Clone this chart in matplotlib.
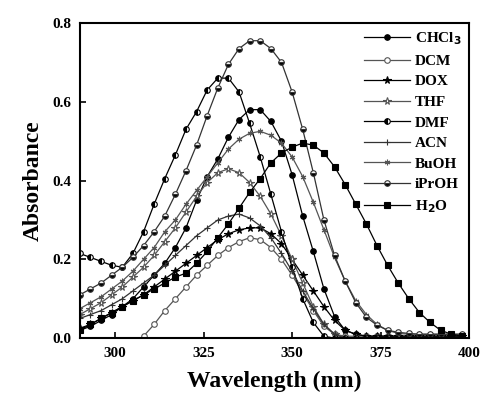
import numpy as np
import matplotlib
matplotlib.use("Agg")
import matplotlib.pyplot as plt

plt.rcParams["font.family"] = "Liberation Serif"
plt.rcParams["font.weight"] = "bold"

nan = np.nan
wavelength = list(range(290, 399, 3))

chcl3 = [0.02, 0.03, 0.045, 0.06, 0.08, 0.10, 0.13, 0.16, 0.19, 0.23, 0.28, 0.35, 0.41,
         0.455, 0.51, 0.555, 0.58, 0.58, 0.55, 0.50, 0.415, 0.31, 0.22, 0.125, 0.055,
         0.02, 0.01] + [0.005] * 10
dcm = [nan] * 6 + [0.005, 0.035, 0.07, 0.10, 0.13, 0.16, 0.185, 0.21, 0.23, 0.245,
                   0.255, 0.25, 0.23, 0.20, 0.16, 0.115, 0.07, 0.03, 0.01] + [0.005] * 12
dox = [0.025, 0.035, 0.05, 0.065, 0.08, 0.095, 0.11, 0.13, 0.15, 0.17, 0.19, 0.21, 0.23,
       0.25, 0.265, 0.275, 0.28, 0.28, 0.265, 0.24, 0.20, 0.16, 0.12, 0.08, 0.045,
       0.02, 0.01] + [0.005] * 10
thf = [0.06, 0.075, 0.09, 0.11, 0.13, 0.155, 0.18, 0.21, 0.245, 0.28, 0.32, 0.36, 0.395,
       0.42, 0.43, 0.42, 0.395, 0.36, 0.315, 0.26, 0.20, 0.14, 0.08, 0.035, 0.01,
       0.0] + [0.0] * 11
dmf = [0.215, 0.205, 0.195, 0.185, 0.18, 0.215, 0.27, 0.34, 0.405, 0.465, 0.53, 0.575,
       0.63, 0.66, 0.66, 0.625, 0.545, 0.46, 0.365, 0.27, 0.18, 0.10, 0.04,
       0.005] + [0.0] * 13
acn = [0.05, 0.06, 0.07, 0.085, 0.10, 0.12, 0.14, 0.16, 0.185, 0.21, 0.235, 0.26, 0.28,
       0.30, 0.31, 0.315, 0.305, 0.285, 0.255, 0.215, 0.17, 0.12, 0.075, 0.035,
       0.01] + [0.0] * 12
buoh = [0.075, 0.09, 0.105, 0.125, 0.145, 0.17, 0.20, 0.23, 0.27, 0.30, 0.34, 0.375, 0.41,
        0.445, 0.48, 0.505, 0.52, 0.525, 0.515, 0.495, 0.46, 0.41, 0.345, 0.275, 0.205,
        0.145, 0.095, 0.06, 0.035, 0.02, 0.012] + [0.01] * 6
iproh = [0.11, 0.125, 0.14, 0.16, 0.18, 0.205, 0.235, 0.27, 0.31, 0.365, 0.425, 0.49,
         0.565, 0.635, 0.695, 0.735, 0.755, 0.755, 0.735, 0.70, 0.625, 0.53, 0.42, 0.30,
         0.21, 0.145, 0.09, 0.053, 0.033, 0.02, 0.015, 0.012] + [0.01] * 5
h2o = [0.02, 0.035, 0.05, 0.065, 0.08, 0.095, 0.11, 0.125, 0.14, 0.155, 0.165, 0.19, 0.22,
       0.255, 0.29, 0.33, 0.37, 0.405, 0.445, 0.47, 0.485, 0.495, 0.49, 0.47, 0.435,
       0.39, 0.34, 0.29, 0.235, 0.185, 0.14, 0.10, 0.065, 0.04, 0.02, 0.01, 0.005]

labels = ["CHCl$_3$", "DCM", "DOX", "THF", "DMF", "ACN", "BuOH", "iPrOH", "H$_2$O"]
series = [chcl3, dcm, dox, thf, dmf, acn, buoh, iproh, h2o]

# marker, face colour, fillstyle, line colour
styles = [
    ("o", "black", "full", "black"),
    ("o", "white", "full", "#555555"),
    ("*", "black", "full", "black"),
    ("*", "white", "full", "#555555"),
    ("o", "black", "left", "black"),
    ("+", "black", "full", "#333333"),
    ((6, 2, 0), "black", "full", "#555555"),
    ("o", "black", "bottom", "#333333"),
    ("s", "black", "full", "black"),
]

fig = plt.figure(figsize=(4.81, 3.96), dpi=100)
ax = fig.add_axes([0.166, 0.146, 0.809, 0.796])

for y, lab, (mk, fc, fs, lc) in zip(series, labels, styles):
    ms = 5.5 if mk == "*" else 4
    ax.plot(wavelength, y, color=lc, lw=0.9, marker=mk, markersize=ms,
            markerfacecolor=fc if fs == "full" else "black",
            markerfacecoloralt="white", fillstyle=fs,
            markeredgecolor=lc, markeredgewidth=0.8, label=lab)

ax.set_xlim(290, 400)
ax.set_ylim(0, 0.8)
ax.set_xticks([300, 325, 350, 375, 400])
ax.set_yticks([0.0, 0.2, 0.4, 0.6, 0.8])
ax.set_yticklabels(["0.0", "0.2", "0.4", "0.6", "0.8"])
ax.tick_params(direction="in", length=4, width=1.2, labelsize=11, pad=6)
for s in ax.spines.values():
    s.set_linewidth(1.5)

ax.set_xlabel("Wavelength (nm)", fontsize=17, fontweight="bold", labelpad=8)
ax.set_ylabel("Absorbance", fontsize=17, fontweight="bold", labelpad=6)

ax.legend(loc="upper right", frameon=False, fontsize=11, handlelength=3.0,
          labelspacing=0.45, handletextpad=0.3, borderaxespad=0.1)

fig.savefig("out.png", dpi=100)
